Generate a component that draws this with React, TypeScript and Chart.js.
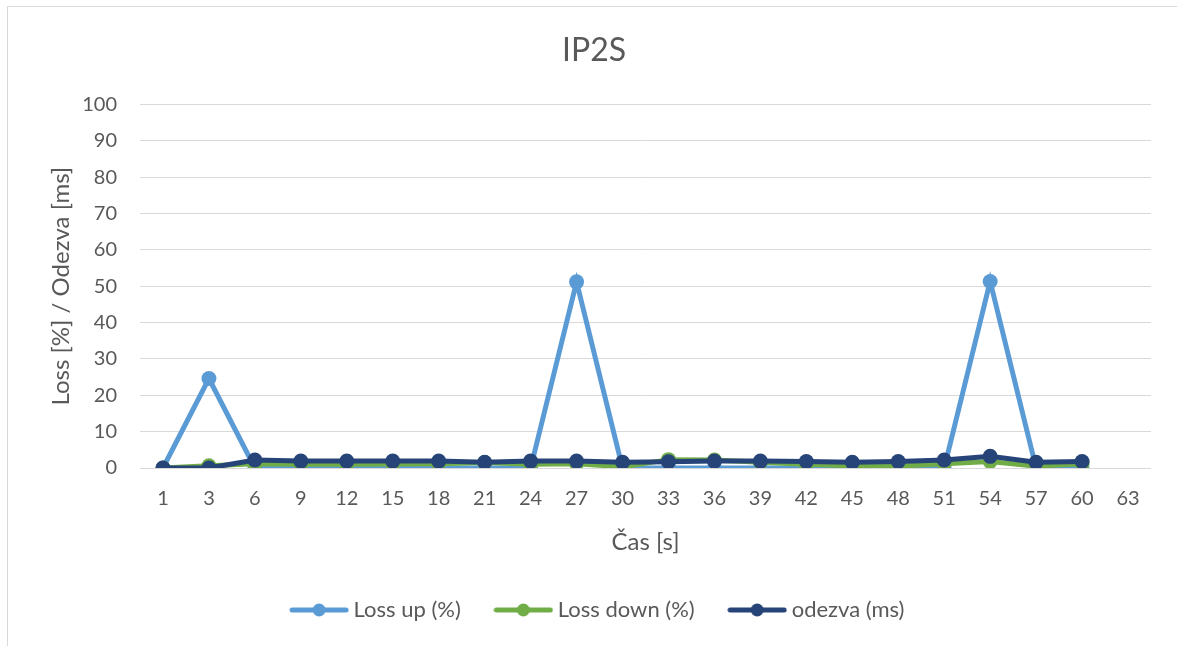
import React, { useEffect, useRef } from "react";
import { Chart, registerables } from "chart.js";

Chart.register(...registerables);

const categories = ["1","3","6","9","12","15","18","21","24","27","30","33","36","39","42","45","48","51","54","57","60","63"];
const lossUp = [0, 24.6, 0, 0, 0, 0, 0, 0, 0, 51.2, 0, 0, 0, 0, 0, 0, 0, 0, 51.3, 0, 0];
const lossDown = [0, 0.6, 1.2, 1.0, 1.0, 1.1, 1.2, 1.5, 1.0, 1.2, 0.3, 2.3, 2.2, 1.6, 1.0, 0.6, 0.5, 1.2, 1.8, 0.5, 1.2];
const odezva = [0, 0, 2.2, 1.9, 1.9, 1.9, 1.9, 1.6, 1.9, 1.9, 1.6, 1.7, 1.9, 1.9, 1.8, 1.6, 1.8, 2.2, 3.2, 1.6, 1.8];
const seriesNames = ["Loss up (%)", "Loss down (%)", "odezva (ms)"];
const seriesColors = ["#5B9BD5", "#70AD47", "#264478"];
const yTicks = { min: 0, max: 100, step: 10 };

const FONT = "Lato, 'Open Sans', sans-serif";
const TEXT = "#595959";

function legendMarker(color: string): HTMLCanvasElement {
  const c = document.createElement("canvas");
  c.width = 60;
  c.height = 16;
  const ctx = c.getContext("2d")!;
  ctx.strokeStyle = color;
  ctx.lineWidth = 5;
  ctx.lineCap = "round";
  ctx.beginPath();
  ctx.moveTo(3, 8);
  ctx.lineTo(57, 8);
  ctx.stroke();
  ctx.fillStyle = color;
  ctx.beginPath();
  ctx.arc(30, 8, 6.5, 0, Math.PI * 2);
  ctx.fill();
  return c;
}

export default function App() {
  const ref = useRef<HTMLCanvasElement | null>(null);

  useEffect(() => {
    if (!ref.current) return;
    const markers = seriesColors.map(legendMarker);
    const shiftLegend = {
      id: "shiftLegend",
      afterLayout(chart: any) {
        const lg = chart.legend;
        if (lg) {
          lg.left += 6;
          lg.right += 6;
          lg.top -= 9;
          lg.bottom -= 9;
        }
      },
    };
    const mk = (i: number, data: number[], order: number) => ({
      label: seriesNames[i],
      data,
      borderColor: seriesColors[i],
      backgroundColor: seriesColors[i],
      pointBackgroundColor: seriesColors[i],
      pointBorderColor: seriesColors[i],
      borderWidth: 5,
      pointRadius: 7.5,
      pointBorderWidth: 0,
      tension: 0,
      order,
    });
    const chart = new Chart(ref.current, {
      type: "line",
      data: {
        labels: categories,
        datasets: [mk(0, lossUp, 2), mk(1, lossDown, 1), mk(2, odezva, 0)],
      },
      plugins: [shiftLegend],
      options: {
        animation: false,
        responsive: false,
        maintainAspectRatio: false,
        layout: { padding: { left: 37, right: 26, top: 0, bottom: 6 } },
        plugins: {
          title: {
            display: true,
            text: "IP2S",
            color: TEXT,
            font: { family: FONT, size: 32, weight: "normal" },
            padding: { top: 31, bottom: 35 },
          },
          legend: {
            display: true,
            position: "bottom",
            labels: {
              usePointStyle: true,
              pointStyleWidth: 47,
              padding: 39,
              color: TEXT,
              font: { family: FONT, size: 22 },
              generateLabels: (chart: any) =>
                chart.data.datasets.map((ds: any, i: number) => ({
                  text: ds.label,
                  fillStyle: seriesColors[i],
                  strokeStyle: seriesColors[i],
                  lineWidth: 0,
                  pointStyle: markers[i],
                  hidden: false,
                  datasetIndex: i,
                  fontColor: TEXT,
                })),
            },
          },
          tooltip: { enabled: false },
        },
        scales: {
          x: {
            type: "category",
            offset: true,
            grid: { display: false, drawTicks: false },
            border: { display: false },
            ticks: {
              color: TEXT,
              font: { family: FONT, size: 20 },
              padding: 19,
              maxRotation: 0,
              autoSkip: false,
            },
            title: {
              display: true,
              text: "Čas [s]",
              color: TEXT,
              font: { family: FONT, size: 24, lineHeight: 1.0 },
              padding: { top: 0, bottom: 15 },
            },
          },
          y: {
            min: yTicks.min,
            max: yTicks.max,
            grid: { color: "#d9d9d9", lineWidth: 1, drawTicks: false },
            border: { display: false },
            ticks: {
              stepSize: yTicks.step,
              color: TEXT,
              font: { family: FONT, size: 20 },
              padding: 23,
            },
            title: {
              display: true,
              text: "Loss [%] / Odezva [ms]",
              color: TEXT,
              font: { family: FONT, size: 24 },
              padding: { top: 10, bottom: 0 },
            },
            afterFit: (scale: any) => {
              scale.width = 103;
            },
          },
        },
      },
    });
    return () => chart.destroy();
  }, []);

  return (
    <div style={{ position: "fixed", left: 0, top: 0, width: 1177, height: 646, overflow: "hidden", background: "#fff" }}>
      <div style={{ position: "absolute", left: 7, top: 6, width: 1300, height: 800, border: "1px solid #d9d9d9" }} />
      <canvas ref={ref} width={1177} height={646} style={{ position: "absolute", left: 0, top: 0 }} />
    </div>
  );
}
